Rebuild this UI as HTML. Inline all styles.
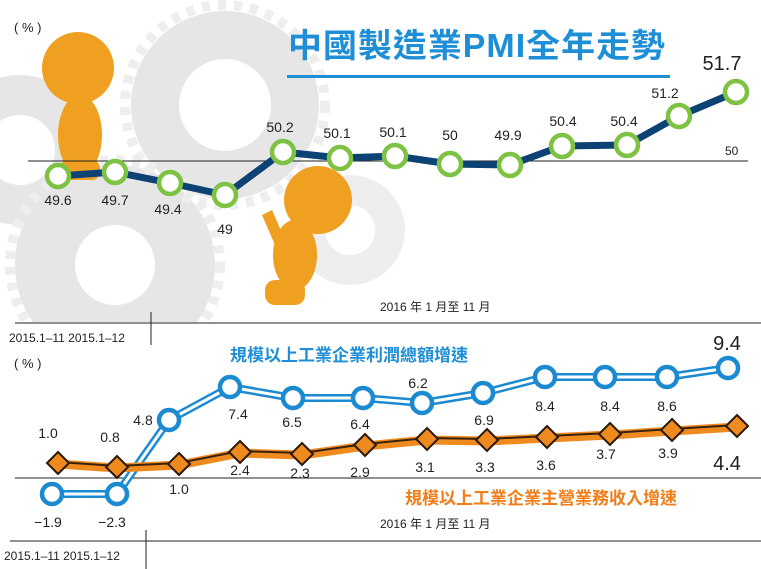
<!DOCTYPE html><html><head><meta charset="utf-8"><style>
body{margin:0;background:#fff}svg{display:block}
text{font-family:"Liberation Sans","Noto Sans CJK TC",sans-serif}
</style></head><body>
<svg width="761" height="569" viewBox="0 0 761 569">
<defs><clipPath id="top"><rect x="0" y="0" width="761" height="322"/></clipPath></defs>
<g clip-path="url(#top)">
<g fill="none" stroke="#e6e6e6">
<circle cx="225" cy="105" r="70" stroke-width="48"/>
<circle cx="115" cy="265" r="70" stroke-width="60"/>
<circle cx="20" cy="150" r="55" stroke-width="40"/>
<circle cx="350" cy="230" r="40" stroke-width="30" stroke="#eeeeee"/>
</g>
<circle cx="225" cy="105" r="100" fill="none" stroke="#eeeeee" stroke-width="10" stroke-dasharray="8 8"/>
<circle cx="115" cy="265" r="105" fill="none" stroke="#eeeeee" stroke-width="10" stroke-dasharray="8 8"/>
<g fill="#f0a020">
<circle cx="78" cy="68" r="36"/>
<ellipse cx="80" cy="135" rx="22" ry="40"/>
<rect x="60" y="160" width="40" height="20" rx="8"/>
<circle cx="318" cy="200" r="34"/>
<ellipse cx="295" cy="255" rx="22" ry="35"/>
<rect x="265" y="280" width="40" height="25" rx="10"/>
<path d="M262 215 L272 210 L285 240 L275 245Z"/>
</g>
</g>
<text x="288" y="57" font-size="33" font-weight="bold" fill="#1e8fd6" letter-spacing="1" textLength="378" lengthAdjust="spacingAndGlyphs">中國製造業PMI全年走勢</text>
<rect x="287" y="75" width="383" height="3" fill="#1e8fd6"/>
<text x="14" y="32" font-size="13" fill="#222">( % )</text>
<line x1="28" y1="161" x2="748" y2="161" stroke="#222" stroke-width="1"/>
<text x="725" y="155" font-size="12" fill="#222">50</text>
<polyline fill="none" stroke="#0d4275" stroke-width="7" stroke-linejoin="round" points="58,176 115,172 170,183 225,195 283,152 340,158 395,156 450,164 510,165 562,146 627,145 679,116 736,92"/>
<g fill="#fff" stroke="#7dc242" stroke-width="4.5">
<circle cx="58" cy="176" r="11"/><circle cx="115" cy="172" r="11"/><circle cx="170" cy="183" r="11"/><circle cx="225" cy="195" r="11"/><circle cx="283" cy="152" r="11"/><circle cx="340" cy="158" r="11"/><circle cx="395" cy="156" r="11"/><circle cx="450" cy="164" r="11"/><circle cx="510" cy="165" r="11"/><circle cx="562" cy="146" r="11"/><circle cx="627" cy="145" r="11"/><circle cx="679" cy="116" r="11"/><circle cx="736" cy="92" r="11"/>
</g>
<g font-size="14" fill="#222" text-anchor="middle">
<text x="58" y="205">49.6</text><text x="115" y="205">49.7</text><text x="168" y="214">49.4</text><text x="225" y="234">49</text>
<text x="280" y="132">50.2</text><text x="337" y="138">50.1</text><text x="393" y="137">50.1</text><text x="450" y="140">50</text><text x="508" y="140">49.9</text><text x="563" y="126">50.4</text><text x="624" y="126">50.4</text><text x="665" y="98">51.2</text>
<text x="722" y="70" font-size="20">51.7</text>
</g>
<text x="380" y="311" font-size="12" fill="#222">2016 年 1 月至 11 月</text>
<line x1="15" y1="323" x2="761" y2="323" stroke="#222"/>
<line x1="151" y1="312" x2="151" y2="345" stroke="#222"/>
<text x="9" y="342" font-size="12" fill="#222">2015.1–11  2015.1–12</text>

<text x="14" y="368" font-size="13" fill="#222">( % )</text>
<text x="230" y="361" font-size="17" font-weight="bold" fill="#1e8fd6">規模以上工業企業利潤總額增速</text>
<line x1="15" y1="478" x2="761" y2="478" stroke="#222"/>
<polyline fill="none" stroke="#1b8ad0" stroke-width="8" stroke-linejoin="round" points="52,494 117,494 169,420 230,387 293,398 363,398 422,403 483,393 545,377 605,377 667,377 728,368"/>
<polyline fill="none" stroke="#fff" stroke-width="3" stroke-linejoin="round" points="52,494 117,494 169,420 230,387 293,398 363,398 422,403 483,393 545,377 605,377 667,377 728,368"/>
<g fill="#fff" stroke="#1b8ad0" stroke-width="4.5">
<circle cx="52" cy="494" r="10"/><circle cx="117" cy="494" r="10"/><circle cx="169" cy="420" r="10"/><circle cx="230" cy="387" r="10"/><circle cx="293" cy="398" r="10"/><circle cx="363" cy="398" r="10"/><circle cx="422" cy="403" r="10"/><circle cx="483" cy="393" r="10"/><circle cx="545" cy="377" r="10"/><circle cx="605" cy="377" r="10"/><circle cx="667" cy="377" r="10"/><circle cx="728" cy="368" r="10"/>
</g>
<polyline fill="none" stroke="#ef8a1f" stroke-width="9" stroke-linejoin="round" points="58,464 117,468 179,465 240,453 302,455 365,446 427,440 487,441 547,438 610,435 672,431 737,427"/>
<polyline fill="none" stroke="#3a2210" stroke-width="2" stroke-linejoin="round" points="58,462 117,466 179,463 240,451 302,453 365,444 427,438 487,439 547,436 610,433 672,429 737,425"/>
<g fill="#ef8a1f" stroke="#2a1a0a" stroke-width="2">
<path d="M58 452l11 11-11 11-11-11z"/><path d="M117 456l11 11-11 11-11-11z"/><path d="M179 453l11 11-11 11-11-11z"/><path d="M240 441l11 11-11 11-11-11z"/><path d="M302 443l11 11-11 11-11-11z"/><path d="M365 434l11 11-11 11-11-11z"/><path d="M427 428l11 11-11 11-11-11z"/><path d="M487 429l11 11-11 11-11-11z"/><path d="M547 426l11 11-11 11-11-11z"/><path d="M610 423l11 11-11 11-11-11z"/><path d="M672 419l11 11-11 11-11-11z"/><path d="M737 415l11 11-11 11-11-11z"/>
</g>
<g font-size="14" fill="#222" text-anchor="middle">
<text x="48" y="438">1.0</text><text x="110" y="442">0.8</text><text x="179" y="494">1.0</text>
<text x="240" y="475">2.4</text><text x="300" y="478">2.3</text><text x="360" y="477">2.9</text><text x="425" y="472">3.1</text><text x="485" y="472">3.3</text><text x="546" y="470">3.6</text><text x="606" y="459">3.7</text><text x="668" y="458">3.9</text>
<text x="727" y="470" font-size="20">4.4</text>
<text x="48" y="527">−1.9</text><text x="112" y="527">−2.3</text><text x="143" y="425">4.8</text><text x="238" y="419">7.4</text><text x="292" y="427">6.5</text><text x="360" y="429">6.4</text><text x="418" y="388">6.2</text><text x="484" y="425">6.9</text><text x="545" y="411">8.4</text><text x="610" y="411">8.4</text><text x="667" y="411">8.6</text>
<text x="727" y="350" font-size="20">9.4</text>
</g>
<text x="405" y="504" font-size="17" font-weight="bold" fill="#ef7d1a">規模以上工業企業主營業務收入增速</text>
<text x="380" y="528" font-size="12" fill="#222">2016 年 1 月至 11 月</text>
<line x1="10" y1="541" x2="761" y2="541" stroke="#222"/>
<line x1="146" y1="530" x2="146" y2="569" stroke="#222"/>
<text x="4" y="560" font-size="12" fill="#222">2015.1–11  2015.1–12</text>
</svg>
</body></html>
